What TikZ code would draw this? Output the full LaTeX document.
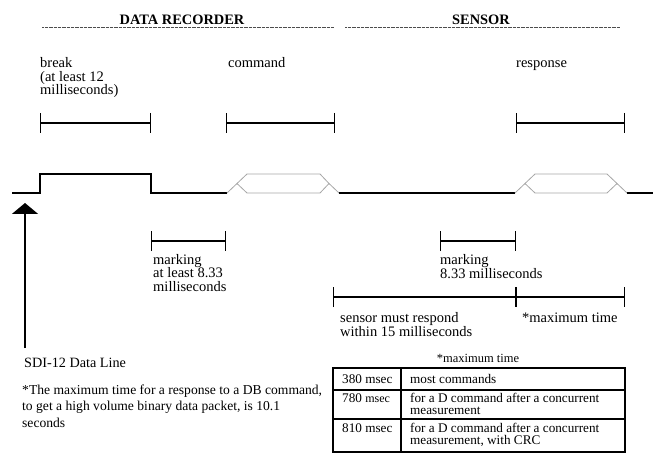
\documentclass[tikz,border=0pt]{standalone}
\usepackage{fontspec}
\setmainfont{Liberation Serif}
\usetikzlibrary{arrows.meta}
\begin{document}
\begin{tikzpicture}[x=1pt,y=-1pt,
  lbl/.style={anchor=base west, inner sep=0pt, align=left, font=\fontsize{14.5}{13.5}\selectfont},
  head/.style={anchor=base, inner sep=0pt, font=\bfseries\fontsize{14.4}{15}\selectfont},
  note/.style={anchor=base west, inner sep=0pt, align=left, font=\fontsize{13.6}{16.5}\selectfont},
  cell/.style={anchor=base west, inner sep=0pt, align=left, font=\fontsize{13.2}{12}\selectfont},
  dots/.style={black!70, line width=0.6pt, dash pattern=on 0.6pt off 0.7pt},
  sig/.style={black, line width=1.5pt},
  bus/.style={black!35, line width=0.8pt, line join=miter},
  brk/.style={line width=1.2pt, {Bar[width=20pt]}-{Bar[width=20pt]}},
  tbl/.style={line width=1.1pt}]
\useasboundingbox (0,0) rectangle (663,462);

% headers
\node[head] (hdr1) at (182,25) {DATA RECORDER};
\node[head] (hdr2) at (481,25) {SENSOR};
\draw[dots] (42,27) -- (334,27);
\draw[dots] (345,27) -- (620,27);

% top labels (base anchor = baseline of last line)
\node[lbl] (lbreak) at (40,95) {break\\(at least 12\\milliseconds)};
\node[lbl] (lcmd) at (228,68) {command};
\node[lbl] (lresp) at (516,68) {response};
\draw[brk] (40,123) -- (151,123);
\draw[brk] (226,123) -- (335,123);
\draw[brk] (516,123) -- (625,123);

% signal
\draw[sig] (12,193) -- (40,193) -- (40,174) -- (151,174) -- (151,193) -- (227,193);
\draw[bus] (227,193) -- (237,183.5) -- (247,174) -- (320,174) -- (329,183.5) -- (339,193);
\draw[bus] (237,183.5) -- (247,193) -- (320,193) -- (329,183.5);
\draw[sig] (339,193) -- (515,193);
\draw[bus] (515,193) -- (525,183.5) -- (535,174) -- (607,174) -- (617,183.5) -- (627,193);
\draw[bus] (525,183.5) -- (535,193) -- (607,193) -- (617,183.5);
\draw[sig] (627,193) -- (653,193);

% arrow
\coordinate (atip) at (25,203);
\coordinate (atail) at (25,348);
\draw[line width=1.5pt, -{Triangle[width=26pt,length=11pt]}] (atail) -- (atip);
\node[note, font=\fontsize{14.2}{16}\selectfont] (sdi) at (24,367) {SDI-12 Data Line};

% markings
\draw[brk] (151,241) -- (226,241);
\node[lbl] (lmark1) at (153,291) {marking\\at least 8.33\\milliseconds};
\draw[brk] (440,241) -- (516,241);
\node[lbl] (lmark2) at (440,278) {marking\\8.33 milliseconds};

% sensor response
\draw[brk] (333,297) -- (516,297);
\draw[brk] (516,297) -- (625,297);
\node[lbl] (lsens) at (340,336) {sensor must respond\\within 15 milliseconds};
\node[lbl] (lmax) at (522,322) {*maximum time};

% footnote
\node[note] (foot) at (22,427) {*The maximum time for a response to a DB command,\\to get a high volume binary data packet, is 10.1\\seconds};

% table
\node[cell, anchor=base, font=\fontsize{12.5}{12}\selectfont] (tcap) at (478,362) {*maximum time};
\draw[tbl] (333,368) rectangle (625,452);
\draw[tbl] (333,390) -- (625,390);
\draw[tbl] (333,419) -- (625,419);
\draw[tbl] (401,368) -- (401,452);
\node[cell] (c11) at (342,383) {380 msec};
\node[cell] (c12) at (410,383) {most commands};
\node[cell] (c21) at (342,402) {780 {\fontsize{12}{12}\selectfont msec}};
\node[cell] (c22) at (410,414) {for a D command after a concurrent\\measurement};
\node[cell] (c31) at (342,432) {810 msec};
\node[cell] (c32) at (410,444) {for a D command after a concurrent\\measurement, with CRC};
\end{tikzpicture}
\end{document}
